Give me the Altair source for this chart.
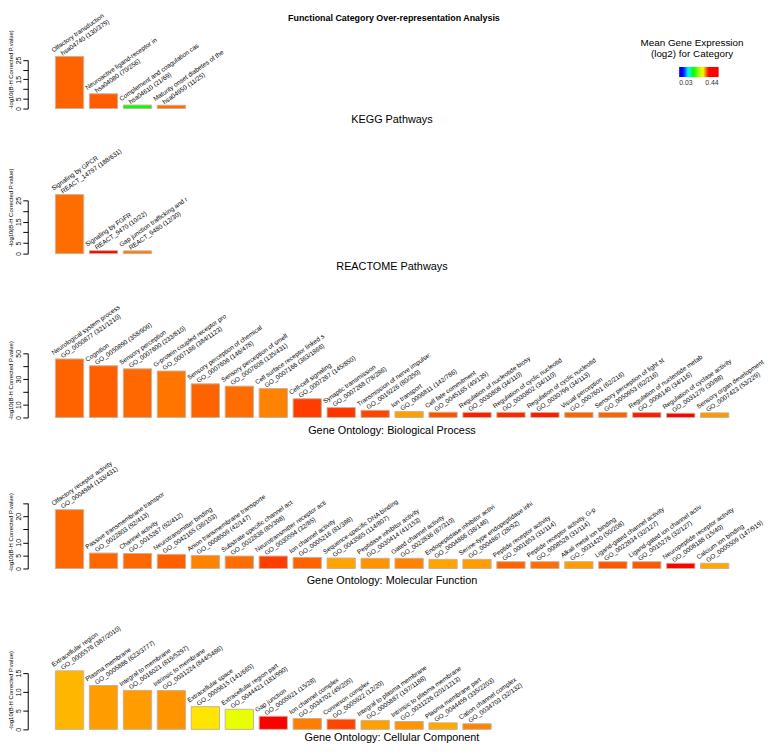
import altair as alt
import pandas as pd

# ---------------- data ----------------
kegg_names = ["Olfactory transduction", "Neuroactive ligand-receptor in",
              "Complement and coagulation cas", "Maturity onset diabetes of the"]
kegg_ids = ["hsa04740 (130/379)", "hsa04080 (70/256)", "hsa04610 (21/69)", "hsa04950 (11/25)"]
kegg_vals = [26.8, 7.6, 1.8, 1.7]
kegg_expr = [0.312, 0.314, 0.18, 0.31]

react_names = ["Signaling by GPCR", "Signaling by FGFR", "Gap junction trafficking and r"]
react_ids = ["REACT_14797 (188/631)", "REACT_9470 (10/22)", "REACT_9480 (12/30)"]
react_vals = [27.7, 1.4, 1.3]
react_expr = [0.31, 0.38, 0.307]

bp_names = ["Neurological system process", "Cognition", "Sensory perception",
            "G-protein coupled receptor pro", "Sensory perception of chemical",
            "Sensory perception of smell", "Cell surface receptor linked s",
            "Cell-cell signaling", "Synaptic transmission", "Transmission of nerve impulse:",
            "Ion transport", "Cell fate commitment", "Regulation of nucleotide biosy",
            "Regulation of cyclic nucleotid", "Regulation of cyclic nucleotid",
            "Visual perception", "Sensory perception of light st",
            "Regulation of nucleotide metab", "Regulation of cyclase activity",
            "Sensory organ development"]
bp_ids = ["GO_0050877 (321/1210)", "GO_0050890 (358/909)", "GO_0007600 (233/810)",
          "GO_0007186 (384/1123)", "GO_0007606 (146/478)", "GO_0007608 (135/431)",
          "GO_0007166 (363/1866)", "GO_0007267 (145/850)", "GO_0007268 (78/286)",
          "GO_0019226 (80/350)", "GO_0006811 (142/786)", "GO_0045165 (40/139)",
          "GO_0030808 (34/110)", "GO_0030802 (34/110)", "GO_0030799 (34/113)",
          "GO_0007601 (62/216)", "GO_0050953 (62/216)", "GO_0006140 (34/116)",
          "GO_0031279 (30/88)", "GO_0007423 (53/229)"]
bp_vals = [45.6, 40.3, 37.9, 36.2, 26.2, 24.4, 22.6, 14.6, 7.7, 5.6,
           4.6, 4.1, 4.0, 4.0, 3.9, 3.9, 3.9, 3.8, 3.3, 3.6]
bp_expr = [0.312, 0.313, 0.311, 0.308, 0.312, 0.310, 0.305, 0.321, 0.323, 0.319,
           0.298, 0.316, 0.329, 0.326, 0.329, 0.312, 0.312, 0.329, 0.35, 0.300]

mf_names = ["Olfactory receptor activity", "Passive transmembrane transpor", "Channel activity",
            "Neurotransmitter binding", "Anion transmembrane transporte",
            "Substrate specific channel act", "Neurotransmitter receptor acti",
            "Ion channel activity", "Sequence-specific DNA binding",
            "Peptidase inhibitor activity", "Gated channel activity",
            "Endopeptidase inhibitor activi", "Serine-type endopeptidase inhi",
            "Peptide receptor activity", "Peptide receptor activity, G-p",
            "Alkali metal ion binding", "Ligand-gated channel activity",
            "Ligand-gated ion channel activ", "Neuropeptide receptor activity",
            "Calcium ion binding"]
mf_ids = ["GO_0004984 (133/431)", "GO_0022803 (92/413)", "GO_0015267 (92/412)",
          "GO_0042165 (36/103)", "GO_0008509 (42/147)", "GO_0022838 (85/398)",
          "GO_0030594 (32/85)", "GO_0005216 (81/386)", "GO_0043565 (114/807)",
          "GO_0030414 (41/153)", "GO_0022836 (67/310)", "GO_0004866 (38/146)",
          "GO_0004867 (28/92)", "GO_0001653 (31/114)", "GO_0008528 (31/114)",
          "GO_0031420 (50/208)", "GO_0022834 (32/127)", "GO_0015276 (32/127)",
          "GO_0008188 (15/40)", "GO_0005509 (147/919)"]
mf_vals = [22.5, 5.9, 5.75, 5.4, 5.0, 4.75, 4.75, 4.25, 4.0, 3.9,
           3.9, 3.5, 3.5, 2.6, 2.6, 2.6, 2.6, 2.6, 2.0, 2.0]
mf_expr = [0.311, 0.311, 0.311, 0.313, 0.305, 0.310, 0.321, 0.312, 0.297, 0.301,
           0.305, 0.297, 0.299, 0.312, 0.310, 0.299, 0.315, 0.315, 0.34, 0.296]

cc_names = ["Extracellular region", "Plasma membrane", "Integral to membrane",
            "Intrinsic to membrane", "Extracellular space", "Extracellular region part",
            "Gap junction", "Ion channel complex", "Connexon complex",
            "Integral to plasma membrane", "Intrinsic to plasma membrane",
            "Plasma membrane part", "Cation channel complex"]
cc_ids = ["GO_0005576 (387/2010)", "GO_0005886 (623/3777)", "GO_0016021 (819/5297)",
          "GO_0031224 (844/5486)", "GO_0005615 (141/665)", "GO_0044421 (181/990)",
          "GO_0005921 (15/28)", "GO_0034702 (49/205)", "GO_0005922 (12/20)",
          "GO_0005887 (197/1188)", "GO_0031226 (201/1213)", "GO_0044459 (335/2203)",
          "GO_0034703 (32/132)"]
cc_vals = [15.6, 11.7, 10.4, 10.35, 6.05, 5.35, 3.5, 2.9, 2.7, 2.4, 2.1, 1.75, 1.5]
cc_expr = [0.293, 0.299, 0.299, 0.301, 0.282, 0.267, 0.335, 0.306, 0.319, 0.298,
           0.301, 0.296, 0.305]

panel_titles = ["KEGG Pathways", "REACTOME Pathways", "Gene Ontology: Biological Process",
                "Gene Ontology: Molecular Function", "Gene Ontology: Cellular Component"]
main_title = "Functional Category Over-representation Analysis"
y_title = "-log10(B-H Corrected P.value)"
legend_title = ["Mean Gene Expression", "(log2) for Category"]
legend_domain = [0.03, 0.07, 0.124, 0.178, 0.276, 0.335, 0.44]
legend_range = ["#0000ff", "#0000ff", "#00ffff", "#00ff00", "#ffff00", "#ff0000", "#ff0000"]

# ---------------- layout ----------------
FONT = "Liberation Sans"
W, H = 750, 740
N_SLOTS = 20
color_scale = alt.Scale(domain=legend_domain, range=legend_range, interpolate="rgb")
x_scale = alt.Scale(domain=list(range(N_SLOTS)), paddingInner=0.167,
                    paddingOuter=0.984, align=0.414)
one = pd.DataFrame({"k": [0]})
legend = alt.Legend(orient="none", legendX=660, legendY=55, direction="horizontal",
                    gradientLength=40, gradientThickness=10, title=None,
                    values=[0.03, 0.44], format=".2f", labelFontSize=7,
                    labelColor="#333333", padding=0, gradientStrokeWidth=0)


def panel(names, ids, vals, expr, base, ppu, ticks, labelled, ytitle_y):
    df = pd.DataFrame({"idx": list(range(len(names))), "name": names, "gid": ids,
                       "val": vals, "expr": expr})
    top = ticks[-1]
    ys = alt.Scale(domain=[0, top], range=[base, base - top * ppu], nice=False, zero=False)
    lab = " || ".join(f"datum.value == {t}" for t in labelled)
    yaxis = alt.Axis(orient="left", values=ticks, labelExpr=f"({lab}) ? datum.label : ''",
                     grid=False, domain=True, domainColor="black", domainWidth=1,
                     ticks=True, tickSize=5, tickColor="black", tickWidth=1,
                     labelAngle=270, labelAlign="center", labelBaseline="bottom",
                     labelPadding=1, labelOverlap=False, labelFlush=False,
                     labelFontSize=7, labelColor="black", title=y_title,
                     titleFontSize=6, titleFontWeight="normal", titleColor="black",
                     titlePadding=1, titleY=ytitle_y)
    yenc = alt.Y("val:Q", scale=ys, axis=yaxis)
    bars = alt.Chart(df).mark_bar(stroke="#c8b39c", strokeWidth=1).encode(
        x=alt.X("idx:O", scale=x_scale, axis=None),
        y=yenc,
        y2=alt.datum(0),
        color=alt.Color("expr:Q", scale=color_scale, legend=legend),
    )
    line2 = alt.Chart(df).mark_text(angle=325, align="left", baseline="alphabetic",
                                    fontSize=6.5, font=FONT, dy=-1, clip=True).encode(
        x=alt.X("idx:O", scale=x_scale, axis=None, bandPosition=0.28),
        y=yenc,
        text="gid:N",
    )
    line1 = alt.Chart(df).mark_text(angle=325, align="left", baseline="alphabetic",
                                    fontSize=6.5, font=FONT, dx=-6, dy=-9, clip=True).encode(
        x=alt.X("idx:O", scale=x_scale, axis=None, bandPosition=0.28),
        y=yenc,
        text="name:N",
    )
    return alt.layer(bars, line2, line1)


# page-y of baseline minus the 8px page margin gives plot-y
p1 = panel(kegg_names, kegg_ids, kegg_vals, kegg_expr, 97, 1.97,
           [0, 5, 10, 15, 20, 25], [0, 5, 15, 25], 57)
p2 = panel(react_names, react_ids, react_vals, react_expr, 244, 2.16,
           [0, 5, 10, 15, 20, 25], [0, 5, 15, 25], 197)
p3 = panel(bp_names, bp_ids, bp_vals, bp_expr, 410, 1.3,
           [0, 10, 20, 30, 40, 50], [0, 10, 30, 50], 372)
p4 = panel(mf_names, mf_ids, mf_vals, mf_expr, 563, 2.65,
           [0, 5, 10, 15, 20, 25], [0, 5, 10, 20], 526)
p5 = panel(cc_names, cc_ids, cc_vals, cc_expr, 726, 3.8,
           [0, 5, 10, 15], [0, 5, 10, 15], 686)

title_df = pd.DataFrame({"t": panel_titles, "ty": [109, 258, 424, 576, 735]})
titles = alt.Chart(title_df).mark_text(fontSize=11, font=FONT, baseline="middle").encode(
    x=alt.value(369), y=alt.Y("ty:Q", scale=alt.Scale(domain=[0, H], range=[0, H]), axis=None),
    text="t:N")
main = alt.Chart(one).mark_text(fontSize=9, font=FONT, fontWeight="bold",
                                baseline="middle").encode(
    x=alt.value(371), y=alt.value(5), text=alt.value(main_title))
leg_title = alt.Chart(one).mark_text(fontSize=10, font=FONT, baseline="middle",
                                     lineHeight=11).encode(
    x=alt.value(673), y=alt.value(31), text=alt.value(legend_title))

chart = alt.layer(p1, p2, p3, p4, p5, titles, main, leg_title).resolve_scale(
    y="independent").resolve_axis(y="independent").properties(
    width=W, height=H, padding=0).configure(font=FONT, view=alt.ViewConfig(stroke=None))

chart.save("out.html", embed_options={"renderer": "svg", "actions": False})
